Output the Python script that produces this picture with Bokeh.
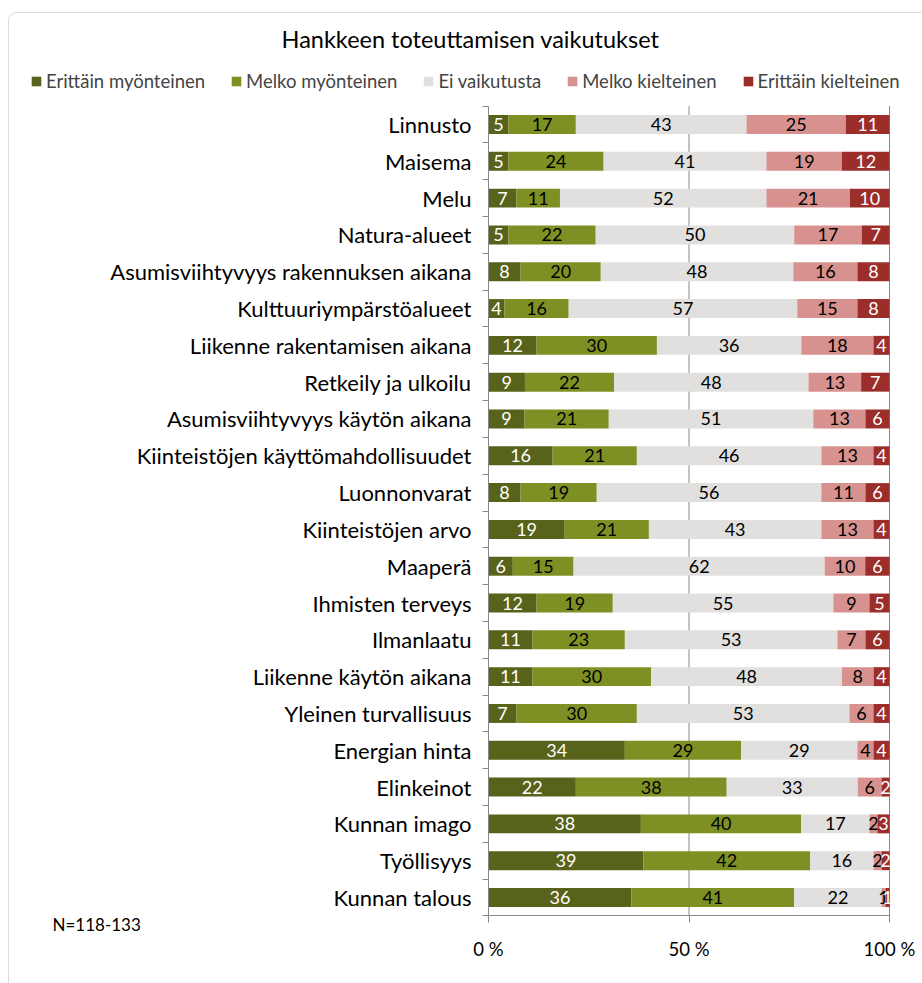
import numpy as np
from bokeh.plotting import figure
from bokeh.models import (ColumnDataSource, FixedTicker, Legend, LegendItem, Label,
                          BoxAnnotation, Range1d)
from bokeh.core.properties import value
from bokeh.embed import file_html
from bokeh.resources import INLINE

# ---------------- data ----------------
categories = [
    "Linnusto", "Maisema", "Melu", "Natura-alueet",
    "Asumisviihtyvyys rakennuksen aikana", "Kulttuuriympärstöalueet",
    "Liikenne rakentamisen aikana", "Retkeily ja ulkoilu",
    "Asumisviihtyvyys käytön aikana", "Kiinteistöjen käyttömahdollisuudet",
    "Luonnonvarat", "Kiinteistöjen arvo", "Maaperä", "Ihmisten terveys",
    "Ilmanlaatu", "Liikenne käytön aikana", "Yleinen turvallisuus",
    "Energian hinta", "Elinkeinot", "Kunnan imago", "Työllisyys", "Kunnan talous",
]
erittain_myonteinen = [5, 5, 7, 5, 8, 4, 12, 9, 9, 16, 8, 19, 6, 12, 11, 11, 7, 34, 22, 38, 39, 36]
melko_myonteinen    = [17, 24, 11, 22, 20, 16, 30, 22, 21, 21, 19, 21, 15, 19, 23, 30, 30, 29, 38, 40, 42, 41]
ei_vaikutusta       = [43, 41, 52, 50, 48, 57, 36, 48, 51, 46, 56, 43, 62, 55, 53, 48, 53, 29, 33, 17, 16, 22]
melko_kielteinen    = [25, 19, 21, 17, 16, 15, 18, 13, 13, 13, 11, 13, 10, 9, 7, 8, 6, 4, 6, 2, 2, 1]
erittain_kielteinen = [11, 12, 10, 7, 8, 8, 4, 7, 6, 4, 6, 4, 6, 5, 6, 4, 4, 4, 2, 3, 2, 1]
series_names = ["Erittäin myönteinen", "Melko myönteinen", "Ei vaikutusta",
                "Melko kielteinen", "Erittäin kielteinen"]
x_tick_values = [0, 50, 100]
x_tick_labels = ["0 %", "50 %", "100 %"]
title_text = "Hankkeen toteuttamisen vaikutukset"
note_text = "N=118-133"

# ---------------- style / layout (pixels) ----------------
FONT = "Lato"
colors = ["#58621a", "#7e9023", "#e1e0df", "#d7928f", "#9b2d2a"]
text_colors = ["white", "black", "black", "black", "white"]
axis_color = "#878787"
W, H = 922, 983
X0_PX, X100_PX = 488, 889          # pixel columns of 0 % and 100 %
TOP_ROW_PX, BOTTOM_ROW_PX = 124, 897

series = [erittain_myonteinen, melko_myonteinen, ei_vaikutusta,
          melko_kielteinen, erittain_kielteinen]
n = len(categories)
ypos = [n - 1 - i for i in range(n)]
arr = np.array(series, dtype=float)
totals = arr.sum(axis=0)
cum = np.vstack([np.zeros(n), np.cumsum(arr, axis=0)]) / totals * 100.0

ppx = (X100_PX - X0_PX) / 100.0
row_px = (BOTTOM_ROW_PX - TOP_ROW_PX) / (n - 1)
x_range = Range1d((0 - X0_PX) / ppx, (W - X0_PX) / ppx)
y_range = Range1d((BOTTOM_ROW_PX - H) / row_px, BOTTOM_ROW_PX / row_px)

p = figure(width=W, height=H, x_range=x_range, y_range=y_range,
           output_backend="svg", toolbar_location=None,
           min_border_left=0, min_border_right=0, min_border_top=0, min_border_bottom=0)
p.title.visible = False
p.outline_line_color = None
p.background_fill_color = "white"
p.border_fill_color = "white"
p.xgrid.visible = False
p.ygrid.visible = False

# gridlines at 50 % and 100 %
grid_src = ColumnDataSource(dict(x=x_tick_values[1:]))
p.segment(x0="x", x1="x", y0=-0.5, y1=n - 0.5, source=grid_src,
          line_color=axis_color, line_width=1)

items = []
for j in range(5):
    src = ColumnDataSource(dict(
        y=ypos,
        left=cum[j], right=cum[j + 1],
        mid=(cum[j] + cum[j + 1]) / 2.0,
        lab=[str(v) for v in series[j]],
    ))
    r = p.hbar(y="y", left="left", right="right", height=0.515, source=src,
               fill_color=colors[j], line_color=None)
    p.text(x="mid", y="y", text="lab", source=src, text_align="center",
           text_baseline="middle", text_font=value(FONT), text_font_size="18px",
           text_color=text_colors[j])
    items.append(LegendItem(label=series_names[j], renderers=[r]))

legend = Legend(items=items, orientation="horizontal", location=(30, H - 92),
                glyph_width=12, glyph_height=12, label_standoff=4, spacing=25,
                padding=0, margin=0, border_line_color=None, background_fill_alpha=0,
                label_text_font=FONT, label_text_font_size="18.5px", label_height=22)
p.add_layout(legend)

# x axis (fixed at the bottom edge of the bars area)
p.xaxis.fixed_location = -0.5
p.xaxis.bounds = (0, 100)
p.xaxis.ticker = FixedTicker(ticks=x_tick_values)
p.xaxis.major_label_overrides = {v: s for v, s in zip(x_tick_values, x_tick_labels)}
p.xaxis.major_tick_out = 7
p.xaxis.major_tick_in = 0
p.xaxis.minor_tick_line_color = None
p.xaxis.axis_line_color = axis_color
p.xaxis.major_tick_line_color = axis_color
p.xaxis.major_label_standoff = 15
p.xaxis.major_label_text_font = FONT
p.xaxis.major_label_text_font_size = "18.5px"
p.xaxis.major_label_text_color = "black"

# y axis (fixed at 0 %)
p.yaxis.fixed_location = 0
p.yaxis.bounds = (-0.5, n - 0.5)
p.yaxis.ticker = FixedTicker(ticks=ypos, minor_ticks=[k - 0.5 for k in range(n + 1)])
p.yaxis.major_label_overrides = {y: c for y, c in zip(ypos, categories)}
p.yaxis.major_tick_line_color = None
p.yaxis.major_tick_out = 0
p.yaxis.major_tick_in = 0
p.yaxis.minor_tick_out = 6
p.yaxis.minor_tick_in = 0
p.yaxis.minor_tick_line_color = axis_color
p.yaxis.axis_line_color = axis_color
p.yaxis.major_label_standoff = 11
p.yaxis.major_label_text_font = FONT
p.yaxis.major_label_text_font_size = "22px"
p.yaxis.major_label_text_color = "black"

# title and note
p.add_layout(Label(x=470, y=H - 38, x_units="screen", y_units="screen",
                   text=title_text, text_align="center", text_baseline="middle",
                   text_font=FONT, text_font_size="23.5px", text_color="black"))
p.add_layout(Label(x=52, y=H - 924, x_units="screen", y_units="screen",
                   text=note_text, text_align="left", text_baseline="middle",
                   text_font=FONT, text_font_size="17px", text_color="black"))

# chart border (cropped rounded rectangle)
p.add_layout(BoxAnnotation(left=8, right=W + 40, top=H - 12, bottom=-40,
                           left_units="screen", right_units="screen",
                           top_units="screen", bottom_units="screen",
                           fill_alpha=0, line_color="#8a8a8a", line_width=1,
                           border_radius=8))

open("out.html", "w").write(file_html(p, INLINE))
